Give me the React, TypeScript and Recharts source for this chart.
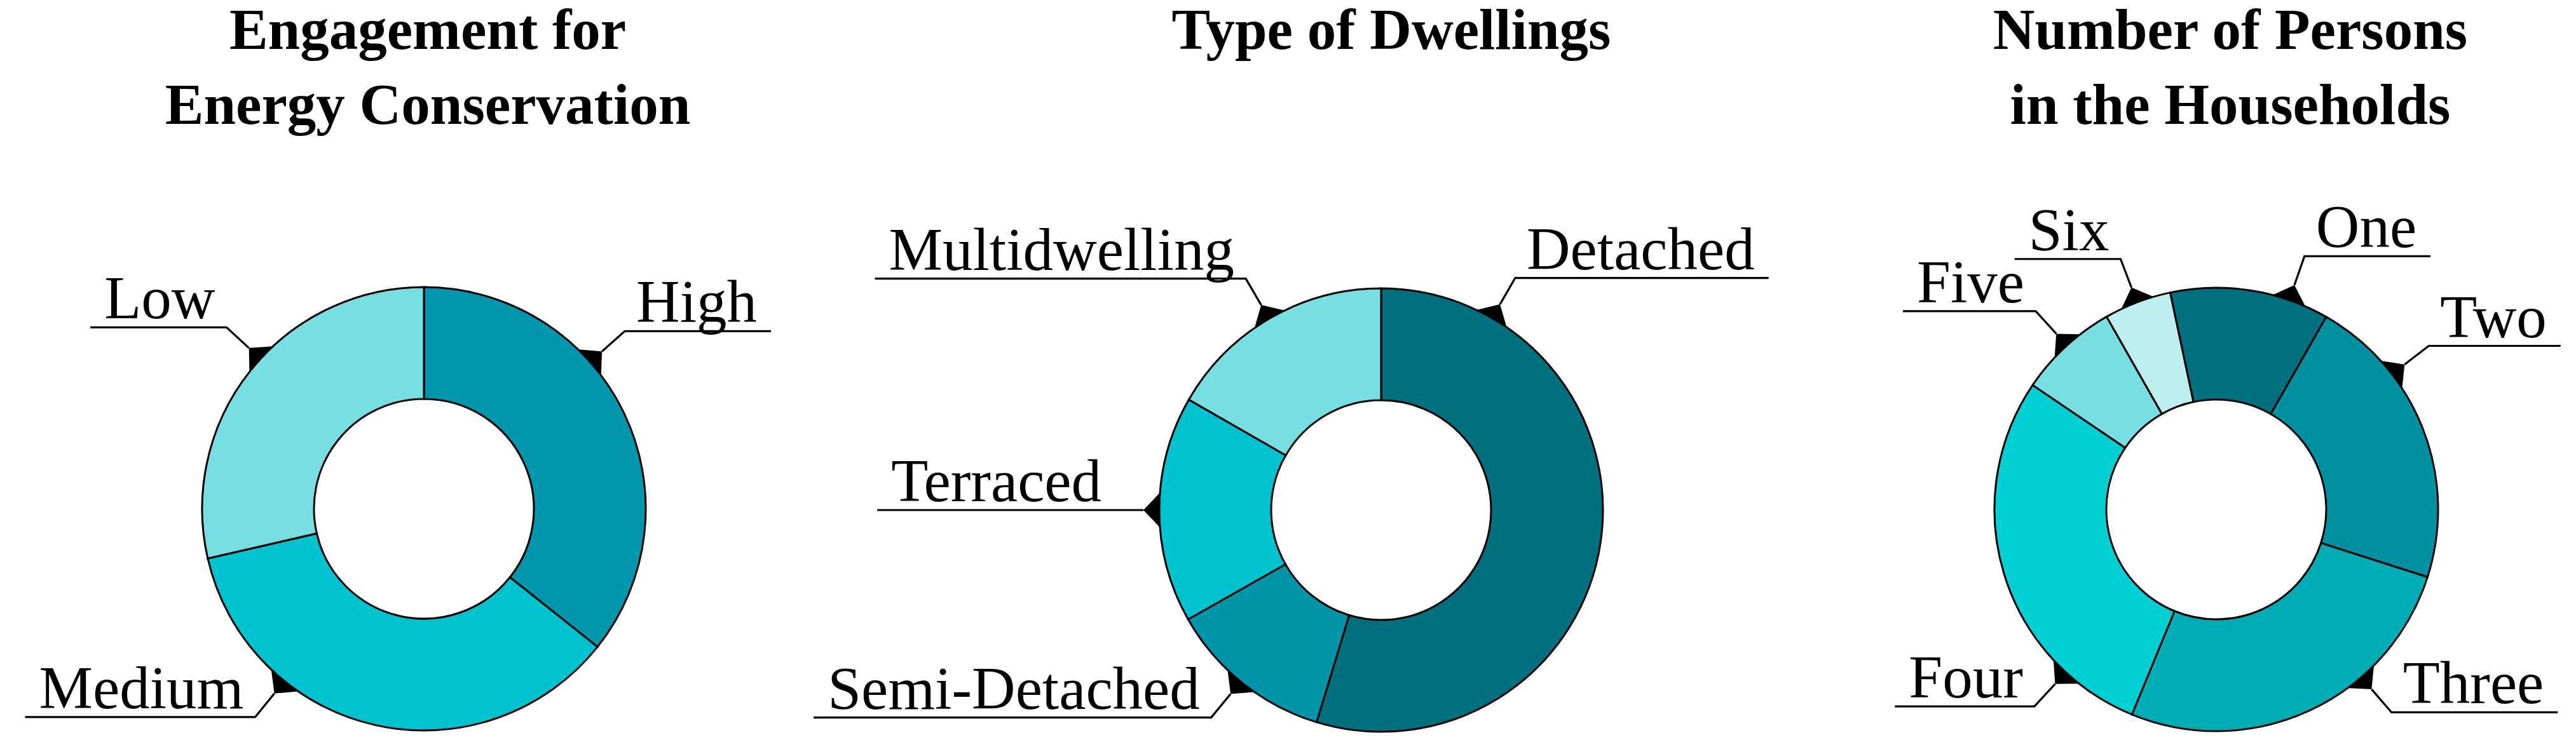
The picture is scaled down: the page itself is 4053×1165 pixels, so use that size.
import React from 'react';
import { PieChart, Pie, Cell } from 'recharts';

// values (share of respondents, %)
const engagementNames = ['High', 'Medium', 'Low'];
const engagementValues = [35.7, 35.7, 28.6];

const dwellingNames = ['Detached', 'Semi-Detached', 'Terraced', 'Multidwelling'];
const dwellingValues = [54.7, 12.1, 16.5, 16.7];

const personsNames = ['One', 'Two', 'Three', 'Four', 'Five', 'Six'];
const personsValues = [11.6, 21.7, 26.3, 28.3, 7.3, 4.9];

const engagementColors = ['#0096AC', '#00C3CF', '#77DFE2'];
const dwellingColors = ['#00707F', '#0094A8', '#00C3CF', '#77DFE2'];
const personsColors = ['#00707F', '#0091A0', '#00ADB4', '#00CFD4', '#77DFE2', '#BDEEF0'];

// where the callouts sit on the ring (degrees clockwise from 12 o'clock)
const labelAngles: Record<string, number> = {
  High: 48.5, Medium: 219, Low: 312.6,
  Detached: 30, 'Semi-Detached': 219.3, Terraced: 270, Multidwelling: 329.7,
  One: 19.2, Two: 52.4, Three: 139.2, Four: 222.7, Five: 317.7, Six: 339.1,
};

const W = 4053;
const H = 1165;
const FONT = '"Liberation Serif", "Times New Roman", serif';
const LABEL_SIZE = 95;
const TITLE_SIZE = 91;

const toRows = (names: string[], values: number[]) =>
  names.map((name, i) => ({ name, value: values[i] }));

let ctx: CanvasRenderingContext2D | null = null;
const textWidth = (t: string) => {
  if (!ctx) ctx = document.createElement('canvas').getContext('2d');
  if (!ctx) return t.length * LABEL_SIZE * 0.45;
  ctx.font = `${LABEL_SIZE}px ${FONT}`;
  return ctx.measureText(t).width;
};

const Callout = (props: any) => {
  const cx = Number(props.cx);
  const cy = Number(props.cy);
  const r = Number(props.outerRadius);
  const name: string = props.name;
  const deg = labelAngles[name] ?? 90 - props.midAngle;
  const rad = (deg * Math.PI) / 180;
  const ux = Math.sin(rad);
  const uy = -Math.cos(rad);

  const ax = cx + (r + 25) * ux;
  const ay = cy + (r + 25) * uy;
  const d = (4.5 * Math.PI) / 180;
  const b1x = cx + r * Math.sin(rad - d);
  const b1y = cy - r * Math.cos(rad - d);
  const b2x = cx + r * Math.sin(rad + d);
  const b2y = cy - r * Math.cos(rad + d);

  const L = 48;
  const kx = ax + ux * L;
  const ky = ay + uy * L;
  const right = ux > 0.05;
  const w = textWidth(name);
  const gap = 18;
  const ext = 22;
  const tx = right ? kx + gap : kx - gap - w;
  const ex = right ? kx + gap + w + ext : kx - gap - w - ext;

  return (
    <g>
      <polygon points={`${ax},${ay} ${b1x},${b1y} ${b2x},${b2y}`} fill="#000" />
      <polyline
        points={`${ax},${ay} ${kx},${ky} ${ex},${ky}`}
        fill="none"
        stroke="#000"
        strokeWidth={3.2}
      />
      <text x={tx} y={ky - 14} fontFamily={FONT} fontSize={LABEL_SIZE} fill="#000">
        {name}
      </text>
    </g>
  );
};

const titles = [
  { x: 673, lines: ['Engagement for', 'Energy Conservation'] },
  { x: 2189, lines: ['Type of Dwellings'] },
  { x: 3509, lines: ['Number of Persons', 'in the Households'] },
];

export default function App() {
  const ring = {
    innerRadius: 173,
    outerRadius: 349,
    dataKey: 'value',
    nameKey: 'name',
    stroke: '#000',
    strokeWidth: 3,
    labelLine: false,
    label: Callout,
    isAnimationActive: false,
  };

  return (
    <div style={{ position: 'absolute', left: 0, top: 0, width: W, height: H, background: '#fff' }}>
      <PieChart width={W} height={H} margin={{ top: 0, right: 0, bottom: 0, left: 0 }}>
        <Pie {...ring} data={toRows(engagementNames, engagementValues)} cx={667} cy={801} startAngle={90} endAngle={-270}>
          {engagementColors.map((c, i) => <Cell key={i} fill={c} />)}
        </Pie>
        <Pie {...ring} data={toRows(dwellingNames, dwellingValues)} cx={2173} cy={803} startAngle={90} endAngle={-270}>
          {dwellingColors.map((c, i) => <Cell key={i} fill={c} />)}
        </Pie>
        <Pie {...ring} data={toRows(personsNames, personsValues)} cx={3487} cy={802} startAngle={102} endAngle={-258}>
          {personsColors.map((c, i) => <Cell key={i} fill={c} />)}
        </Pie>
      </PieChart>
      <svg width={W} height={H} style={{ position: 'absolute', left: 0, top: 0, pointerEvents: 'none' }}>
        {titles.map((t) =>
          t.lines.map((line, j) => (
            <text
              key={t.x + '-' + j}
              x={t.x}
              y={77 + j * 118}
              textAnchor="middle"
              fontFamily={FONT}
              fontWeight="bold"
              fontSize={TITLE_SIZE}
              fill="#000"
            >
              {line}
            </text>
          ))
        )}
      </svg>
    </div>
  );
}
